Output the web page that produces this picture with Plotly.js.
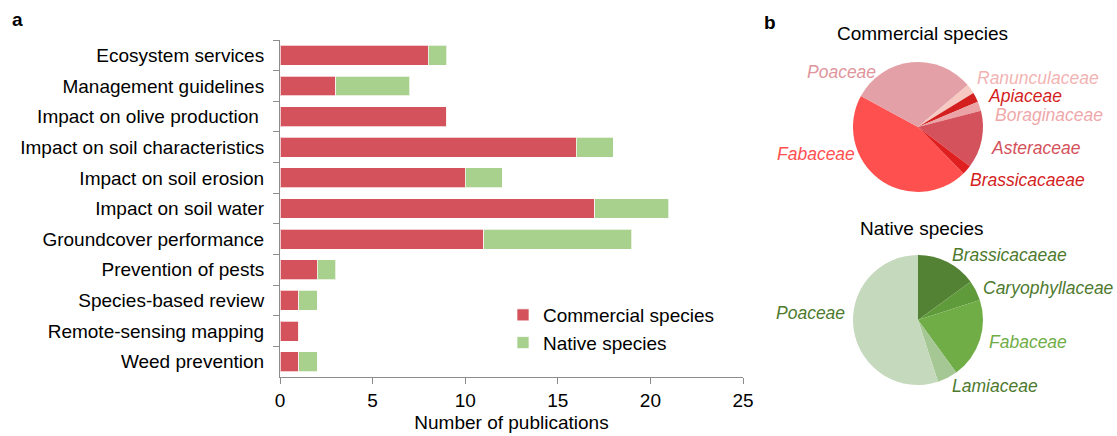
<!DOCTYPE html>
<html>
<head>
<meta charset="utf-8">
<script src="https://cdn.plot.ly/plotly-3.0.1.min.js"></script>
<style>
html,body{margin:0;padding:0;background:#fff;}
#chart{width:1117px;height:436px;}
</style>
</head>
<body>
<div id="chart"></div>
<script>
// ---- Data ----
const categories = [
  "Ecosystem services",
  "Management guidelines",
  "Impact on olive production ",
  "Impact on soil characteristics",
  "Impact on soil erosion",
  "Impact on soil water",
  "Groundcover performance",
  "Prevention of pests",
  "Species-based review",
  "Remote-sensing mapping",
  "Weed prevention"
];
const commercialCounts = [8, 3, 9, 16, 10, 17, 11, 2, 1, 1, 1];
const nativeCounts     = [1, 4, 0, 2, 2, 4, 8, 1, 1, 0, 1];

const commercialFamilies = ["Fabaceae", "Poaceae", "Ranunculaceae", "Apiaceae", "Boraginaceae", "Asteraceae", "Brassicacaeae"];
const commercialFamilyCounts = [19, 13, 1, 1, 1, 6, 1];
const commercialFamilyColors = ["#ff5050", "#e3a1a7", "#f6c9c2", "#d41f1f", "#eba3a5", "#d4525b", "#e02020"];

const nativeFamilies = ["Brassicacaeae", "Caryophyllaceae", "Fabaceae", "Lamiaceae", "Poaceae"];
const nativeFamilyCounts = [3, 1, 4, 1, 11];
const nativeFamilyColors = ["#548235", "#5f9a3b", "#70ad47", "#a5c793", "#c5d9bd"];

const xTicks = [0, 5, 10, 15, 20, 25];

// ---- Layout helpers ----
const W = 1117, H = 436;
const px = x => x / W;
const py = y => 1 - y / H;
const FONT = "Liberation Sans, Arial, sans-serif";

const traces = [
  {
    type: "bar", orientation: "h", name: "Commercial species",
    y: categories, x: commercialCounts,
    marker: {color: "#d4525b", line: {color: "rgba(255,255,255,0.7)", width: 1}},
    xaxis: "x", yaxis: "y", hoverinfo: "x+y+name"
  },
  {
    type: "bar", orientation: "h", name: "Native species",
    y: categories, x: nativeCounts,
    marker: {color: "#a9d18e", line: {color: "rgba(255,255,255,0.7)", width: 1}},
    xaxis: "x", yaxis: "y", hoverinfo: "x+y+name"
  },
  {
    type: "pie", labels: commercialFamilies, values: commercialFamilyCounts,
    marker: {colors: commercialFamilyColors, line: {width: 0}},
    sort: false, direction: "clockwise", rotation: 135.6,
    textinfo: "none", showlegend: false,
    domain: {x: [px(853), px(983)], y: [py(192), py(62)]}
  },
  {
    type: "pie", labels: nativeFamilies, values: nativeFamilyCounts,
    marker: {colors: nativeFamilyColors, line: {width: 0}},
    sort: false, direction: "clockwise", rotation: 0,
    textinfo: "none", showlegend: false,
    domain: {x: [px(853), px(983)], y: [py(385), py(255)]}
  }
];

function lab(text, x, y, color, anchor) {
  return {
    text: text, x: px(x), y: py(y), xref: "paper", yref: "paper",
    xanchor: anchor || "left", yanchor: "middle", showarrow: false,
    font: {family: FONT, size: 17.5, color: color, style: "italic"}
  };
}
function plain(text, x, y, size, anchor, bold) {
  return {
    text: bold ? "<b>" + text + "</b>" : text, x: px(x), y: py(y), xref: "paper", yref: "paper",
    xanchor: anchor, yanchor: "middle", showarrow: false,
    font: {family: FONT, size: size, color: "#000"}
  };
}

const annotations = [
  plain("a", 10, 20, 19, "left", true),
  plain("b", 762, 22, 19, "left", true),
  plain("Commercial species", 922, 33, 19, "center"),
  plain("Native species", 922, 228, 19, "center"),
  lab("Poaceae", 878, 72, "#e0959d", "right"),
  lab("Ranunculaceae", 975, 78, "#f2b3b3"),
  lab("Apiaceae", 986, 96, "#d41f1f"),
  lab("Boraginaceae", 993, 115, "#f0a8aa"),
  lab("Asteraceae", 989, 148, "#d4525b"),
  lab("Fabaceae", 857, 154, "#ff5050", "right"),
  lab("Brassicacaeae", 968, 180, "#d41f1f"),
  lab("Brassicacaeae", 950, 255, "#4e7a2e"),
  lab("Caryophyllaceae", 981, 288, "#4e7a2e"),
  lab("Poaceae", 847, 313, "#4e7a2e", "right"),
  lab("Fabaceae", 987, 342, "#70ad47"),
  lab("Lamiaceae", 950, 386, "#4e7a2e")
];

const layout = {
  width: W, height: H,
  margin: {l: 0, r: 0, t: 0, b: 0, pad: 0},
  paper_bgcolor: "#fff", plot_bgcolor: "#fff",
  font: {family: FONT, size: 19, color: "#000"},
  barmode: "stack", bargap: 0.35,
  showlegend: true,
  legend: {
    x: px(503), y: py(296), xanchor: "left", yanchor: "top",
    traceorder: "normal", bgcolor: "rgba(0,0,0,0)",
    font: {size: 19, color: "#000"}, itemclick: false, itemdoubleclick: false
  },
  xaxis: {
    domain: [px(280), px(743)], range: [0, 25],
    tickvals: xTicks, ticktext: xTicks.map(String),
    showgrid: false, zeroline: false,
    showline: true, linecolor: "#8c8c8c", linewidth: 1,
    ticks: "outside", ticklen: 6, tickcolor: "#8c8c8c",
    tickfont: {size: 19, color: "#000"},
    title: {text: "Number of publications", font: {size: 19, color: "#000"}, standoff: 5},
    anchor: "y", fixedrange: true
  },
  yaxis: {
    domain: [py(377), py(40)],
    type: "category", categoryorder: "array", categoryarray: categories,
    autorange: "reversed",
    showgrid: false, zeroline: false,
    showline: true, linecolor: "#8c8c8c", linewidth: 1,
    ticks: "outside", ticklen: 6, tickcolor: "#8c8c8c", tickson: "boundaries",
    tickfont: {size: 19, color: "#000"}, ticklabelstandoff: 11,
    anchor: "x", fixedrange: true
  },
  annotations: annotations
};

Plotly.newPlot("chart", traces, layout, {displayModeBar: false, staticPlot: true});
</script>
</body>
</html>
